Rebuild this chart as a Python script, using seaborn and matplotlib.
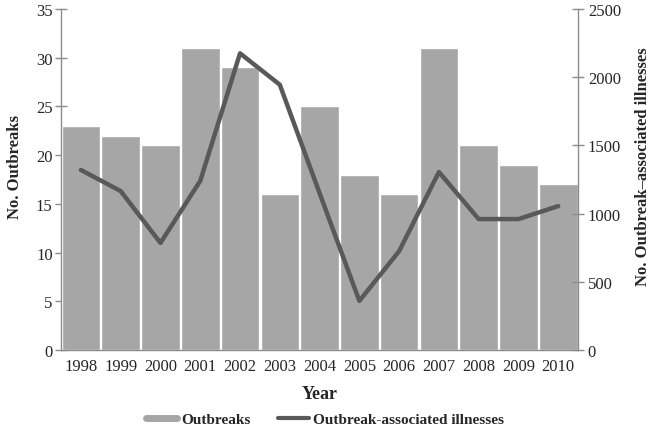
import numpy as np
import pandas as pd
import matplotlib
matplotlib.use('Agg')
import matplotlib.pyplot as plt
import seaborn as sns
from matplotlib.lines import Line2D

# Data
years = ['1998', '1999', '2000', '2001', '2002', '2003', '2004',
         '2005', '2006', '2007', '2008', '2009', '2010']
outbreaks = [23, 22, 21, 31, 29, 16, 25, 18, 16, 31, 21, 19, 17]
illnesses = [1320, 1165, 785, 1240, 2175, 1945, 1150, 360, 725, 1305, 960, 960, 1055]

df = pd.DataFrame({'year': years, 'outbreaks': outbreaks, 'illnesses': illnesses})

sns.set_style('white')
plt.rcParams['font.family'] = ['Liberation Serif', 'DejaVu Serif']

bar_col = '#a6a6a6'
line_col = '#595959'
axis_col = '#8c8c8c'

fig = plt.figure(figsize=(6.54, 4.31), dpi=100)
ax = fig.add_axes([0.0933, 0.1856, 0.7907, 0.7912])

sns.barplot(data=df, x='year', y='outbreaks', color=bar_col, saturation=1,
            width=0.97, ax=ax)
ax.set_ylim(0, 35)
ax.set_yticks(range(0, 36, 5))
ax.set_xlim(-0.5, len(years) - 0.5)

ax2 = ax.twinx()
sns.lineplot(x=np.arange(len(years)), y=df['illnesses'], color=line_col,
             linewidth=3.2, ax=ax2)
ax2.set_ylim(0, 2500)
ax2.set_yticks(range(0, 2501, 500))

for a in (ax, ax2):
    a.spines['top'].set_visible(False)
    for s in ('left', 'right', 'bottom'):
        a.spines[s].set_color(axis_col)
        a.spines[s].set_linewidth(1)

ax.spines['right'].set_visible(False)
ax2.spines['left'].set_visible(False)
ax2.spines['bottom'].set_visible(False)

# y ticks crossing the axis lines
ax.tick_params(axis='y', which='major', direction='inout', length=8, width=1,
               color=axis_col, labelsize=12, pad=2)
ax2.tick_params(axis='y', which='major', direction='inout', length=8, width=1,
                color=axis_col, labelsize=12, pad=3)

# x: labels at centres, tick marks between categories
ax.set_xticks(np.arange(len(years)))
ax.set_xticklabels(years)
ax.set_xticks(np.arange(len(years) + 1) - 0.5, minor=True)
ax.tick_params(axis='x', which='major', length=0, labelsize=12, pad=6)
ax.tick_params(axis='x', which='minor', direction='out', length=5, width=1,
               color=axis_col)

ax.set_xlabel('Year', fontsize=13, fontweight='bold', labelpad=8)
ax.set_ylabel('No. Outbreaks', fontsize=12, fontweight='bold', labelpad=9)
ax2.set_ylabel('No. Outbreak\u2013associated illnesses', fontsize=12,
               fontweight='bold', labelpad=10)
ax.yaxis.label.set_y(0.54)
ax2.yaxis.label.set_y(0.54)

handles = [Line2D([], [], color=bar_col, linewidth=5),
           Line2D([], [], color=line_col, linewidth=3)]
fig.legend(handles, ['Outbreaks', 'Outbreak-associated illnesses'],
           loc='center', bbox_to_anchor=(0.497, 0.025), ncol=2, frameon=False,
           prop={'weight': 'bold', 'size': 11}, handlelength=2.0,
           handletextpad=0.3, columnspacing=1.8)

fig.savefig('out.png', dpi=100)
